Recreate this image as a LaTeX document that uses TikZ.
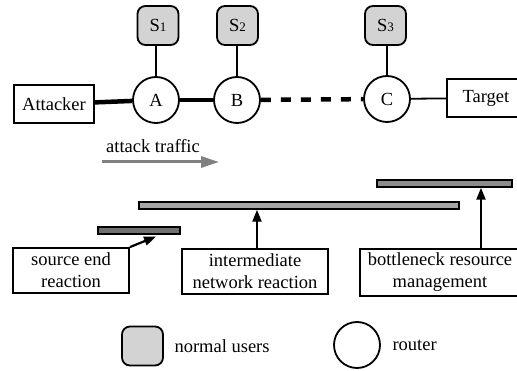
\documentclass[tikz,border=0pt]{standalone}
\usepackage{fontspec}
\setmainfont{Liberation Serif}
\usetikzlibrary{arrows.meta}
\definecolor{usergray}{HTML}{D3D3D3}
\definecolor{srcbar}{HTML}{707070}
\definecolor{interbar}{HTML}{A6A6A6}
\definecolor{bottlebar}{HTML}{8C8C8C}
\definecolor{trafficgray}{HTML}{808080}
\tikzset{
  every node/.style={font=\fontsize{18.5}{22}\selectfont},
  boxnode/.style={draw, line width=1.8pt, rectangle, inner sep=0pt, align=center},
  usernode/.style={draw, line width=1.8pt, rectangle, rounded corners=8pt, fill=usergray, minimum width=41pt, minimum height=39pt, inner sep=0pt},
  routernode/.style={draw, line width=1.8pt, circle, minimum size=46pt, inner sep=0pt, fill=white},
  barnode/.style={draw, line width=1.4pt, rectangle, inner sep=0pt, minimum height=7pt},
  thinlink/.style={line width=1.8pt},
  thicklink/.style={line width=4.5pt},
  reactarrow/.style={line width=2.2pt, -{Triangle[length=12pt,width=9pt]}},
}
\newcommand{\digit}[1]{{\fontsize{13}{13}\selectfont #1}}
\begin{document}
\begin{tikzpicture}[x=1pt, y=-1pt]
\clip (0,0) rectangle (517,371);
\fill[white] (0,0) rectangle (517,371);
% network row
\node[boxnode, minimum width=80pt, minimum height=38pt] (att) at (54,104) {Attacker};
\node[routernode] (A) at (156,100) {A};
\node[routernode] (B) at (237,100) {B};
\node[routernode] (C) at (387,99) {C};
\node[boxnode, minimum width=78pt, minimum height=38pt] (tgt) at (486,98) {Target};
\node[usernode] (S1) at (158,25.5) {S\digit{1}};
\node[usernode] (S2) at (237.5,25.5) {S\digit{2}};
\node[usernode] (S3) at (385.5,25.5) {S\digit{3}};
\draw[thinlink] (A) -- (A |- S1.south);
\draw[thinlink] (B) -- (B |- S2.south);
\draw[thinlink] (C) -- (C |- S3.south);
\draw[thicklink] (att) -- (A);
\draw[thicklink] (A) -- (B);
\draw[thicklink, dash pattern=on 10pt off 10pt] (B) -- (C);
\draw[thinlink] (C) -- (tgt);
% attack traffic
\node (trafficlbl) at (153,146) {attack traffic};
\coordinate (tr1) at (102,162);
\coordinate (tr2) at (219,162);
\draw[trafficgray, line width=3pt, -{Triangle[length=18pt,width=11pt]}] (tr1) -- (tr2);
% bars
\node[barnode, fill=srcbar, minimum width=82pt] (sbar) at (139,230.5) {};
\node[barnode, fill=interbar, minimum width=320pt] (ibar) at (299,205.5) {};
\node[barnode, fill=bottlebar, minimum width=135pt] (bbar) at (444.5,183.5) {};
% reaction boxes
\node[boxnode, minimum width=116pt, minimum height=45pt] (sbox) at (71,270.5) {source end\\reaction};
\node[boxnode, minimum width=146pt, minimum height=45pt] (ibox) at (255,271.5) {intermediate\\network reaction};
\node[boxnode, minimum width=160pt, minimum height=47pt] (bbox) at (440,272.5) {bottleneck resource\\management};
\coordinate (stip) at (156,236.5);
\draw[reactarrow] (sbox.north east) -- (stip);
\coordinate (itail) at (257,249);
\draw[reactarrow] (itail) -- (itail |- ibar.south);
\coordinate (btail) at (481,249);
\draw[reactarrow] (btail) -- (btail |- bbar.south);
% legend
\node[usernode] (leguser) at (142.5,346) {};
\node[anchor=west] (leguserlbl) at (171,346) {normal users};
\node[routernode] (legrouter) at (357,345) {};
\node[anchor=west] (legrouterlbl) at (389,345) {router};
\end{tikzpicture}
\end{document}
